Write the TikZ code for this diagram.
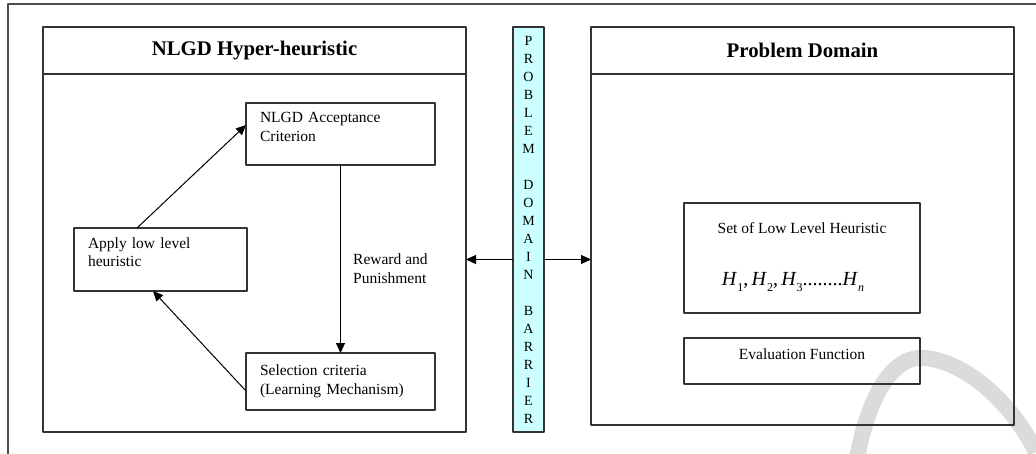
\documentclass[tikz,border=0pt]{standalone}
\usepackage{fontspec}
\setmainfont{Liberation Serif}
\usetikzlibrary{arrows.meta,calc}
\definecolor{barrierblue}{HTML}{CCFFFF}
\newcommand{\lowsub}[1]{\raisebox{-0.6ex}{\fontsize{12}{12}\selectfont #1}}

\begin{document}
\begin{tikzpicture}[x=1pt, y=-1pt, line join=round, >={Triangle[length=10pt,width=9pt]},
	every node/.style={font=\fontsize{15.5}{18.5}\selectfont},
	frame/.style={draw=black!80, line width=1.3pt, inner sep=0pt, outer sep=0pt},
	stage/.style={draw=black!80, line width=1.3pt, align=left, inner xsep=14pt, inner ysep=0pt, outer sep=0pt},
	ttl/.style={font=\fontsize{20.8}{24}\selectfont\bfseries},
	arr/.style={->, line width=1pt}]
	\useasboundingbox (0,0) rectangle (1036,454);
	\clip (0,0) rectangle (1036,454);
	% watermark and page frame
	\draw[black!14, line width=16pt] (857,458) .. controls (870,390) and (895,355) .. (925,358) .. controls (965,362) and (1010,400) .. (1036,452);
	\draw[black!70, line width=2pt] (7.5,470) |- (1050,4.5);
	% hyper-heuristic side
	\node[frame, minimum width=423, minimum height=405] (hh) at (254.5,229.5) {};
	\draw[black!80, line width=1.3pt] ($(hh.north west)+(0,47)$) -- ($(hh.north east)+(0,47)$);
	\node[ttl] (hhtitle) at ($(hh.north)+(0,23.5)$) {NLGD Hyper-heuristic};
	\path 
	(340.5,134) node[stage, text width=161, minimum height=62, text depth=33] (acc) {NLGD Acceptance\\Criterion}
	(160.5,259.5) node[stage, text width=145, minimum height=63, text depth=33] (apply) {Apply low level\\heuristic}
	(340.5,381.5) node[stage, text width=161, minimum height=57] (sel) {Selection criteria\\(Learning Mechanism)}
	(353,268.5) node[anchor=west, align=left, inner sep=0pt] (reward) {Reward and\\Punishment};
	\draw[arr] (acc) -- (sel);
	\draw[arr] ($(apply.north)+(-23.5,0)$) -- ($(acc.west)+(0,-9)$);
	\draw[arr] ($(sel.west)+(0,9.5)$) -- ($(apply.south)+(-7.5,0)$);
	% barrier
	\node[frame, fill=barrierblue, minimum width=31, minimum height=405, align=center,
	font=\fontsize{14}{18}\selectfont] (barrier) at (528.5,229.5)
	{P\\R\\O\\B\\L\\E\\M\\[18pt]D\\O\\M\\A\\I\\N\\[18pt]B\\A\\R\\R\\I\\E\\R};
	% problem domain side
	\node[frame, minimum width=423, minimum height=398] (pd) at (802.5,226) {};
	\draw[black!80, line width=1.3pt] ($(pd.north west)+(0,47)$) -- ($(pd.north east)+(0,47)$);
	\node[ttl] (pdtitle) at ($(pd.north)+(0,23.5)$) {Problem Domain};
	\node[frame, minimum width=236, minimum height=110] (llh) at (802,258) {};
	\node[frame, minimum width=236, minimum height=46] (eval) at (802,361) {};
	\path 
	(802,228) node (llhtxt) {Set of Low Level Heuristic}
	(793,282) node[font=\fontsize{20}{22}\selectfont] (llhset) {\textit{H}\lowsub{1},\,\textit{H}\lowsub{2},\,\textit{H}\lowsub{3}........\textit{H}\lowsub{\textit{n}}}
	(802,354) node (evaltxt) {Evaluation Function};
	\draw[arr] (barrier.west |- apply) -- (hh.east |- apply);
	\draw[arr] (barrier.east |- apply) -- (pd.west |- apply);
\end{tikzpicture}
\end{document}
